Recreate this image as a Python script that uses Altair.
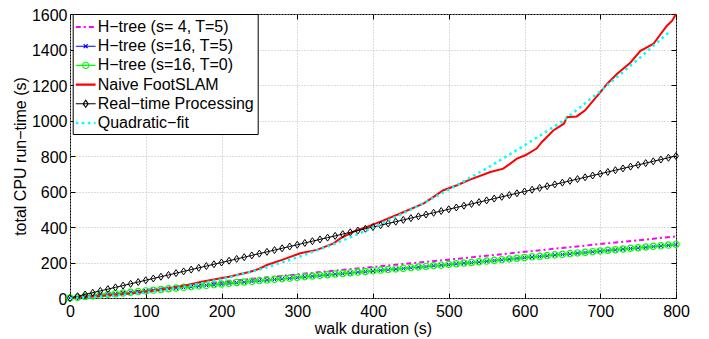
import altair as alt
import pandas as pd

FONT = "Liberation Sans"

series_names = ["H−tree (s= 4, T=5)", "H−tree (s=16, T=5)", "H−tree (s=16, T=0)",
                "Naive FootSLAM", "Real−time Processing", "Quadratic−fit"]
series_colors = ["#ff00ff", "#0000ff", "#00ff00", "#ff0000", "#000000", "#00ffff"]

x_ticks = [0, 100, 200, 300, 400, 500, 600, 700, 800]
y_ticks = [0, 200, 400, 600, 800, 1000, 1200, 1400, 1600]

# sampling grid of the marker series (every 10 s)
t10 = list(range(0, 801, 10))

realtime = [0, 10, 20, 30, 40, 50, 60, 70, 80, 90, 100,
            110, 120, 130, 140, 150, 160, 170, 180, 190, 200,
            210, 220, 230, 240, 250, 260, 270, 280, 290, 300,
            310, 320, 330, 340, 350, 360, 370, 380, 390, 400,
            410, 420, 430, 440, 450, 460, 470, 480, 490, 500,
            510, 520, 530, 540, 550, 560, 570, 580, 590, 600,
            610, 620, 630, 640, 650, 660, 670, 680, 690, 700,
            710, 720, 730, 740, 750, 760, 770, 780, 790, 800]

htree_s16_t0 = [0, 4, 8, 12, 16, 20, 24, 28, 32, 36, 40,
                44, 48, 52, 56, 60, 64, 68, 71, 75, 79,
                83, 87, 90, 94, 98, 101, 105, 109, 112, 116,
                120, 124, 127, 131, 135, 138, 142, 146, 149, 153,
                157, 160, 164, 167, 171, 175, 178, 182, 185, 189,
                193, 197, 200, 204, 208, 212, 216, 220, 224, 228,
                232, 235, 239, 243, 246, 250, 254, 257, 261, 265,
                269, 272, 276, 280, 283, 287, 291, 294, 298, 302]

htree_s16_t5 = [0, 4, 8, 12, 16, 20, 24, 28, 32, 36, 40,
                44, 48, 52, 55, 59, 63, 67, 71, 74, 78,
                82, 86, 89, 93, 97, 100, 104, 108, 111, 115,
                119, 123, 126, 130, 134, 137, 141, 145, 148, 152,
                156, 159, 163, 166, 170, 174, 177, 181, 184, 188,
                192, 196, 199, 203, 207, 211, 215, 219, 223, 227,
                231, 234, 238, 242, 245, 249, 253, 256, 260, 264,
                268, 271, 275, 279, 282, 286, 290, 293, 297, 301]

t_s4 = [0, 50, 100, 150, 200, 250, 300, 350, 400, 450, 500, 550, 600, 650, 700, 750, 800]
htree_s4 = [0, 22, 45, 68, 90, 112, 133, 154, 175, 196, 216, 238, 260, 282, 304, 325, 347]

t_naive = [0, 20, 40, 60, 80, 100, 120, 140, 160, 172, 190, 210, 238, 250, 260, 280, 304,
           326, 348, 357, 374, 392, 410, 436, 467, 480, 493, 511, 528, 555, 572, 590, 601,
           616, 623, 638, 652, 656, 669, 680, 691, 700, 709, 722, 740, 753, 770, 788, 795, 800]
naive = [0, 5, 11, 18, 26, 35, 46, 60, 77, 90, 104, 120, 148, 165, 186, 215, 252,
         271, 308, 336, 373, 401, 430, 476, 533, 570, 607, 635, 667, 710, 729, 785, 804,
         842, 879, 944, 982, 1019, 1023, 1057, 1113, 1159, 1206, 1262, 1327, 1393, 1431, 1534, 1562, 1600]

t_fit = [0, 50, 100, 150, 200, 250, 300, 350, 400, 450, 500, 550, 600, 650, 700, 750, 790]
fit = [0, 10, 31, 63, 105, 160, 228, 306, 396, 498, 610, 730, 860, 995, 1165, 1345, 1495]

# ---------------------------------------------------------------- data frames
df_rt = pd.DataFrame({"t": t10, "v": realtime})
df_t0 = pd.DataFrame({"t": t10, "v": htree_s16_t0})
df_t5 = pd.DataFrame({"t": t10, "v": htree_s16_t5})
df_s4 = pd.DataFrame({"t": t_s4, "v": htree_s4})
df_nv = pd.DataFrame({"t": t_naive, "v": naive})
df_fit = pd.DataFrame({"t": t_fit, "v": fit})
df_leg = pd.DataFrame({"series": series_names})

W, H = 606, 284

xs = alt.Scale(domain=[0, 800], nice=False, zero=False)
ys = alt.Scale(domain=[0, 1600], nice=False, zero=False)

grid_kw = dict(grid=True, gridColor="#b8b8b8", gridDash=[1, 2], gridWidth=1,
               ticks=False, tickSize=0, domain=False, labelFont=FONT, labelFontSize=16,
               labelColor="black", labelFlush=False, labelOverlap=False, format="d",
               titleFont=FONT, titleFontSize=16, titleFontWeight="normal", titleColor="black")

x_main = alt.X("t:Q", scale=xs, axis=alt.Axis(values=x_ticks, labelPadding=5,
               title="walk duration (s)", titlePadding=1, **grid_kw))
y_main = alt.Y("v:Q", scale=ys, axis=alt.Axis(values=y_ticks, labelPadding=3, labelOffset=1,
               title="total CPU run−time (s)", titlePadding=3, **grid_kw))

x_plain = alt.X("t:Q", scale=xs, axis=None)
y_plain = alt.Y("v:Q", scale=ys, axis=None)

tick_kw = dict(labels=False, grid=False, domain=False, ticks=True, tickSize=5,
               tickColor="black", tickWidth=1, title=None)

# lines and markers
magenta = alt.Chart(df_s4).mark_line(color="#ff00ff", strokeWidth=2,
                                     strokeDash=[5, 3, 2, 3]).encode(x=x_main, y=y_main)
blue_l = alt.Chart(df_t5).mark_line(color="#0000ff", strokeWidth=1).encode(x=x_plain, y=y_plain)
blue_p = alt.Chart(df_t5).mark_point(color="#0000ff", filled=False, strokeWidth=1, size=16,
                                     opacity=1, shape="M-1,-1L1,1M-1,1L1,-1").encode(x=x_plain, y=y_plain)
green_l = alt.Chart(df_t0).mark_line(color="#00ff00", strokeWidth=1).encode(x=x_plain, y=y_plain)
green_p = alt.Chart(df_t0).mark_point(color="#00ff00", filled=False, strokeWidth=1.2, size=40,
                                      opacity=1, shape="circle").encode(x=x_plain, y=y_plain)
red = alt.Chart(df_nv).mark_line(color="#ff0000", strokeWidth=2).encode(x=x_plain, y=y_plain)
black_l = alt.Chart(df_rt).mark_line(color="#000000", strokeWidth=1).encode(x=x_plain, y=y_plain)
black_p = alt.Chart(df_rt).mark_point(color="#000000", filled=False, strokeWidth=1, size=49,
                                      opacity=1, shape="M0,-1L0.7,0L0,1L-0.7,0Z").encode(x=x_plain, y=y_plain)
cyan = alt.Chart(df_fit).mark_line(color="#00ffff", strokeWidth=2.5,
                                   strokeDash=[2.5, 3.5]).encode(x=x_plain, y=y_plain)

# inward ticks on all four sides
ticks_a = alt.Chart(df_fit).mark_point(opacity=0).encode(
    x=alt.X("t:Q", scale=xs, axis=alt.Axis(orient="top", offset=-H, values=x_ticks, **tick_kw)),
    y=alt.Y("v:Q", scale=ys, axis=alt.Axis(orient="right", offset=-W, values=y_ticks, **tick_kw)),
)
ticks_b = alt.Chart(df_fit).mark_point(opacity=0).encode(
    x=alt.X("t:Q", scale=xs, axis=alt.Axis(orient="bottom", offset=-H, values=x_ticks, **tick_kw)),
    y=alt.Y("v:Q", scale=ys, axis=alt.Axis(orient="left", offset=-W, values=y_ticks, **tick_kw)),
)

# legend (symbols combine line and marker; thick lines drawn as stacked strokes)
THICK = "M-1.1,-0.06H1.1M-1.1,0.06H1.1"
THICKER = "M-1.1,-0.08H1.1M-1.1,0H1.1M-1.1,0.08H1.1"
legend_paths = [
    THICK,
    "M-1.1,0H1.1M-0.22,-0.22L0.22,0.22M-0.22,0.22L0.22,-0.22",
    "M-1.1,0H1.1M0.35,0A0.35,0.35,0,1,1,-0.35,0A0.35,0.35,0,1,1,0.35,0",
    THICK,
    "M-1.1,0H1.1M0,-0.39L0.28,0L0,0.39L-0.28,0Z",
    THICKER,
]
legend_dash = [[5, 3, 2, 3], [1, 0], [1, 0], [1, 0], [1, 0], [2.5, 3.5]]

leg = alt.Legend(title=None, orient="none", legendX=2.7, legendY=0, labelFont=FONT,
                 labelFontSize=16, labelColor="black", symbolSize=324, symbolOpacity=1,
                 symbolStrokeWidth=1.1, rowPadding=1.2, padding=3, labelOffset=2,
                 strokeColor="black", fillColor="white", labelLimit=400)

legend_layer = alt.Chart(df_leg).transform_filter("false").mark_point(filled=False).encode(
    color=alt.Color("series:N", scale=alt.Scale(domain=series_names, range=series_colors), legend=leg),
    shape=alt.Shape("series:N", scale=alt.Scale(domain=series_names, range=legend_paths), legend=leg),
    strokeDash=alt.StrokeDash("series:N", scale=alt.Scale(domain=series_names, range=legend_dash), legend=leg),
)

chart = alt.layer(
    magenta, blue_l, blue_p, green_l, green_p, red, black_l, black_p, cyan,
    ticks_a, ticks_b, legend_layer
).resolve_axis(x="independent", y="independent").properties(
    width=W, height=H,
    autosize=alt.AutoSizeParams(type="none"),
    padding={"left": 62, "top": 6, "right": 25, "bottom": 40},
    background="white",
).configure_view(stroke="black", strokeWidth=1)

chart.save("out.html", embed_options={"renderer": "svg", "actions": False})
